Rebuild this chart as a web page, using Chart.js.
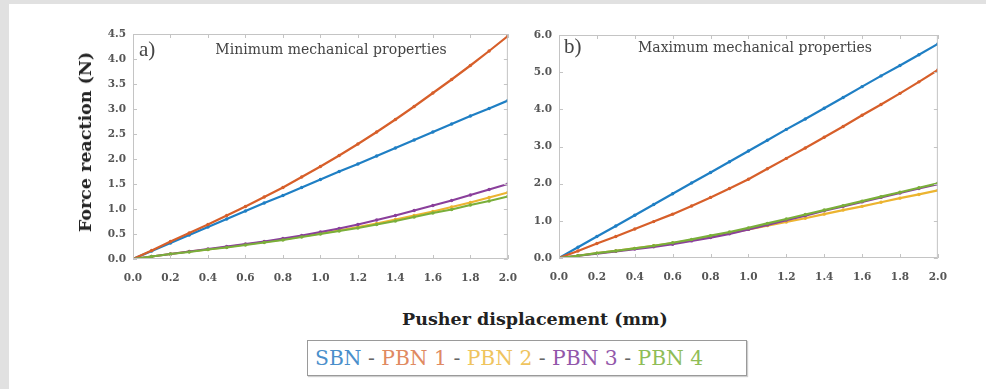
<!DOCTYPE html>
<html>
<head>
<meta charset="utf-8">
<script src="https://cdn.jsdelivr.net/npm/chart.js@4.4.1/dist/chart.umd.min.js"></script>
<style>
  html, body { margin: 0; padding: 0; }
  body { width: 986px; height: 389px; background: #e1e1e1; position: relative; overflow: hidden; font-family: "DejaVu Serif", "Liberation Serif", serif; }
  #sheet { position: absolute; left: 9px; top: 4px; width: 977px; height: 385px; background: #fff; }
  .cv { position: absolute; }
  #ca { left: 60px; top: 20px; width: 470px; height: 270px; }
  #cb { left: 520px; top: 20px; width: 440px; height: 270px; }
  .txt { position: absolute; white-space: nowrap; color: #333; }
  #ytitle { left: 85px; top: 142px; transform: translate(-50%, -50%) rotate(-90deg); font-weight: bold; font-size: 17.5px; color: #222; }
  #xtitle { left: 535px; top: 319px; transform: translate(-50%, -50%); font-weight: bold; font-size: 17.5px; color: #222; }
  #lab-a { left: 139px; top: 37px; font-family: "Liberation Serif", serif; font-size: 21px; color: #444; }
  #tit-a { left: 331px; top: 49px; transform: translate(-50%, -50%); font-size: 14px; color: #444; }
  #lab-b { left: 564px; top: 34px; font-family: "Liberation Serif", serif; font-size: 21px; color: #444; }
  #tit-b { left: 755px; top: 47px; transform: translate(-50%, -50%); font-size: 14px; color: #444; }
  #legend { position: absolute; left: 307px; top: 340px; width: 440px; height: 36px; border: 1px solid #9a9a9a; box-shadow: 1px 1px 1px #cfcfcf; background: #fff; box-sizing: border-box; font-size: 20.3px; line-height: 34px; padding-left: 7px; white-space: nowrap; color: #555; }
</style>
</head>
<body>
<div id="sheet"></div>
<canvas id="ca" class="cv" width="470" height="270"></canvas>
<canvas id="cb" class="cv" width="440" height="270"></canvas>
<div id="ytitle" class="txt">Force reaction (N)</div>
<div id="xtitle" class="txt">Pusher displacement (mm)</div>
<div id="lab-a" class="txt">a)</div>
<div id="tit-a" class="txt">Minimum mechanical properties</div>
<div id="lab-b" class="txt">b)</div>
<div id="tit-b" class="txt">Maximum mechanical properties</div>
<div id="legend"></div>
<script>
// ---- data ----
const displacement = [0.0, 0.1, 0.2, 0.3, 0.4, 0.5, 0.6, 0.7, 0.8, 0.9, 1.0, 1.1, 1.2, 1.3, 1.4, 1.5, 1.6, 1.7, 1.8, 1.9, 2.0];
const seriesNames = ["SBN", "PBN 1", "PBN 2", "PBN 3", "PBN 4"];

// a) Minimum mechanical properties
const minSBN  = [0, 0.16, 0.32, 0.48, 0.64, 0.80, 0.96, 1.12, 1.27, 1.43, 1.59, 1.75, 1.90, 2.06, 2.22, 2.38, 2.54, 2.70, 2.86, 3.01, 3.17];
const minPBN1 = [0, 0.17, 0.35, 0.52, 0.69, 0.87, 1.05, 1.24, 1.43, 1.64, 1.85, 2.07, 2.30, 2.54, 2.79, 3.05, 3.32, 3.59, 3.87, 4.16, 4.46];
const minPBN2 = [0, 0.05, 0.10, 0.15, 0.19, 0.24, 0.29, 0.34, 0.39, 0.45, 0.51, 0.57, 0.64, 0.71, 0.79, 0.87, 0.95, 1.04, 1.13, 1.23, 1.33];
const minPBN3 = [0, 0.05, 0.10, 0.15, 0.20, 0.25, 0.30, 0.35, 0.41, 0.47, 0.54, 0.61, 0.69, 0.78, 0.87, 0.97, 1.07, 1.17, 1.28, 1.39, 1.50];
const minPBN4 = [0, 0.05, 0.10, 0.14, 0.19, 0.23, 0.28, 0.33, 0.38, 0.44, 0.50, 0.56, 0.62, 0.69, 0.76, 0.84, 0.92, 0.99, 1.08, 1.16, 1.25];

// b) Maximum mechanical properties
const maxSBN  = [0, 0.29, 0.58, 0.86, 1.15, 1.44, 1.73, 2.02, 2.30, 2.59, 2.88, 3.17, 3.46, 3.74, 4.03, 4.32, 4.61, 4.90, 5.18, 5.47, 5.76];
const maxPBN1 = [0, 0.19, 0.39, 0.58, 0.78, 0.98, 1.18, 1.40, 1.63, 1.87, 2.12, 2.40, 2.68, 2.96, 3.25, 3.54, 3.84, 4.13, 4.43, 4.74, 5.06];
const maxPBN2 = [0, 0.06, 0.13, 0.19, 0.26, 0.33, 0.40, 0.48, 0.57, 0.67, 0.77, 0.87, 0.97, 1.07, 1.18, 1.29, 1.39, 1.50, 1.61, 1.71, 1.82];
const maxPBN3 = [0, 0.06, 0.12, 0.18, 0.24, 0.30, 0.37, 0.46, 0.55, 0.65, 0.77, 0.89, 1.02, 1.14, 1.27, 1.39, 1.51, 1.63, 1.75, 1.87, 1.99];
const maxPBN4 = [0, 0.06, 0.13, 0.19, 0.26, 0.33, 0.41, 0.50, 0.60, 0.70, 0.81, 0.93, 1.05, 1.17, 1.29, 1.41, 1.53, 1.65, 1.77, 1.89, 2.01];

const xTicks = [0.0, 0.2, 0.4, 0.6, 0.8, 1.0, 1.2, 1.4, 1.6, 1.8, 2.0];
const yTicksA = [0.0, 0.5, 1.0, 1.5, 2.0, 2.5, 3.0, 3.5, 4.0, 4.5];
const yTicksB = [0.0, 1.0, 2.0, 3.0, 4.0, 5.0, 6.0];

// ---- styles ----
const lineColors = ["#1f7fc4", "#d75f2a", "#ecb430", "#8a3f9b", "#7aaf3a"];
const legendColors = ["#4a8fcb", "#e08a62", "#efc45e", "#9257aa", "#8fbd57"];

document.getElementById('legend').innerHTML = seriesNames.map((n, i) =>
  '<span style="color:' + legendColors[i] + '">' + n + '</span>').join('<span style="color:#666"> - </span>');

function makeDatasets(series) {
  return series.map((vals, i) => ({
    label: seriesNames[i],
    data: displacement.map((x, k) => ({ x: x, y: vals[k] })),
    borderColor: lineColors[i],
    backgroundColor: lineColors[i],
    borderWidth: 2.2,
    pointRadius: 1.7,
    pointBorderWidth: 0,
    pointBackgroundColor: lineColors[i],
    tension: 0,
    order: 5 - i
  }));
}

const boxPlugin = {
  id: 'box',
  afterDatasetsDraw(chart) {
    const ctx = chart.ctx, a = chart.chartArea;
    const xs = chart.scales.x, ys = chart.scales.y;
    ctx.save();
    ctx.strokeStyle = '#c4c4c4';
    ctx.lineWidth = 1;
    ctx.strokeRect(a.left + 0.5, a.top + 0.5, a.right - a.left - 1, a.bottom - a.top - 1);
    ctx.beginPath();
    xs.ticks.forEach(t => {
      const px = Math.round(xs.getPixelForValue(t.value)) + 0.5;
      ctx.moveTo(px, a.bottom); ctx.lineTo(px, a.bottom - 4);
      ctx.moveTo(px, a.top); ctx.lineTo(px, a.top + 4);
    });
    ys.ticks.forEach(t => {
      const py = Math.round(ys.getPixelForValue(t.value)) + 0.5;
      ctx.moveTo(a.left, py); ctx.lineTo(a.left + 4, py);
      ctx.moveTo(a.right, py); ctx.lineTo(a.right - 4, py);
    });
    ctx.stroke();
    ctx.restore();
  }
};

const tickFont = { family: 'DejaVu Serif', size: 10.5, weight: 'bold' };

function makeChart(id, series, yTicks, yMax, yWidth, padRight, padTop, xHeight) {
  return new Chart(document.getElementById(id), {
    type: 'line',
    data: { datasets: makeDatasets(series) },
    options: {
      responsive: false,
      animation: false,
      devicePixelRatio: 1,
      layout: { padding: { left: 0, right: padRight, top: padTop, bottom: 0 } },
      plugins: { legend: { display: false }, tooltip: { enabled: false } },
      scales: {
        x: {
          type: 'linear', min: 0, max: 2,
          afterFit: s => { s.height = xHeight; },
          afterBuildTicks: s => { s.ticks = xTicks.map(v => ({ value: v })); },
          ticks: { padding: 13, color: '#555', font: tickFont, maxRotation: 0, autoSkip: false, callback: v => Number(v).toFixed(1) },
          grid: { display: false, drawTicks: false },
          border: { display: false }
        },
        y: {
          type: 'linear', min: 0, max: yMax,
          afterFit: s => { s.width = yWidth; },
          afterBuildTicks: s => { s.ticks = yTicks.map(v => ({ value: v })); },
          ticks: { padding: 7, color: '#555', font: tickFont, autoSkip: false, callback: v => Number(v).toFixed(1) },
          grid: { display: false, drawTicks: false },
          border: { display: false }
        }
      }
    },
    plugins: [boxPlugin]
  });
}

makeChart('ca', [minSBN, minPBN1, minPBN2, minPBN3, minPBN4], yTicksA, 4.5, 73, 18, 14, 31);
makeChart('cb', [maxSBN, maxPBN1, maxPBN2, maxPBN3, maxPBN4], yTicksB, 6.0, 39, 17, 15, 32);
</script>
</body>
</html>
